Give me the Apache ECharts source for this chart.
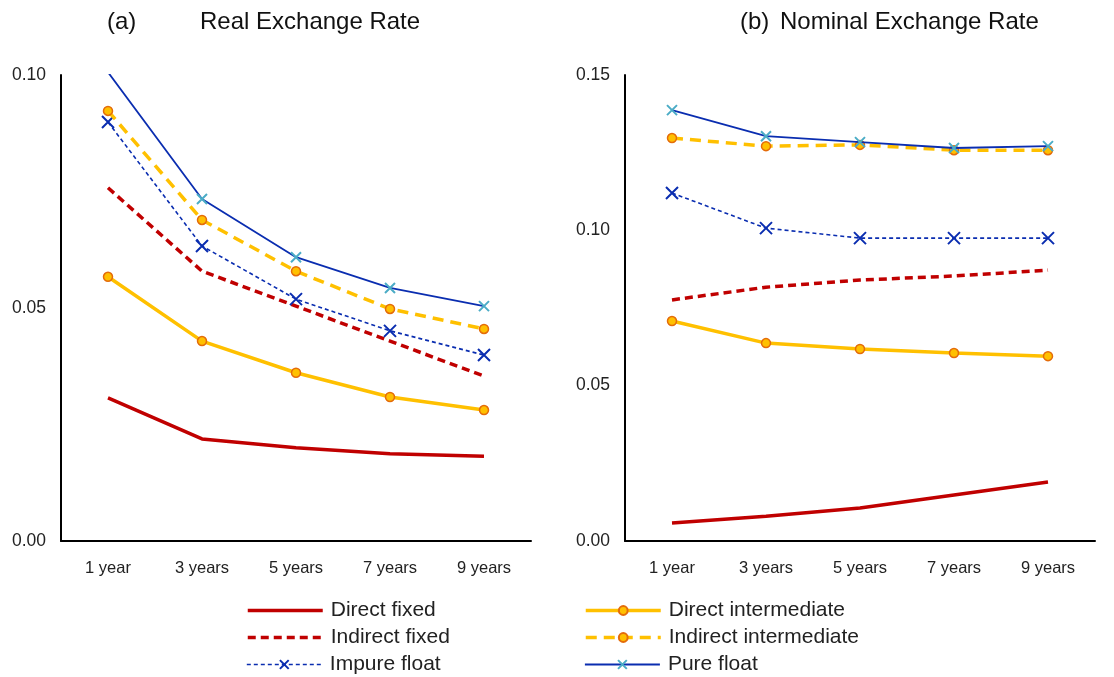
<!DOCTYPE html>
<html><head><meta charset="utf-8">
<script src="https://cdn.jsdelivr.net/npm/echarts@6/dist/echarts.min.js"></script>
<style>html,body{margin:0;padding:0;background:#fff}#c{width:1114px;height:677px}</style>
</head><body><div id="c"></div>
<script>
const categories = ['1 year','3 years','5 years','7 years','9 years'];
const seriesNames = ['Direct fixed','Indirect fixed','Impure float','Direct intermediate','Indirect intermediate','Pure float'];
// (a) Real exchange rate
const realDirectFixed = [0.0307,0.0219,0.0200,0.0187,0.0182];
const realIndirectFixed = [0.0758,0.0579,0.0504,0.0429,0.0354];
const realImpureFloat = [0.0899,0.0633,0.0519,0.0451,0.0399];
const realDirectInter = [0.0567,0.0429,0.0361,0.0309,0.0281];
const realIndirectInter = [0.0923,0.0689,0.0579,0.0498,0.0455];
const realPureFloat = [0.1006,0.0734,0.0609,0.0543,0.0504];
// (b) Nominal exchange rate
const nomDirectFixed = [0.0058,0.0080,0.0106,0.0148,0.0190];
const nomIndirectFixed = [0.0776,0.0817,0.0840,0.0853,0.0872];
const nomImpureFloat = [0.1120,0.1007,0.0975,0.0975,0.0975];
const nomDirectInter = [0.0708,0.0637,0.0618,0.0605,0.0595];
const nomIndirectInter = [0.1297,0.1271,0.1275,0.1258,0.1258];
const nomPureFloat = [0.1387,0.1303,0.1284,0.1265,0.1271];
const realTicks = {min:0, max:0.10, interval:0.05};
const nomTicks = {min:0, max:0.15, interval:0.05};

const FONT = '"Liberation Sans", Arial, sans-serif';
const X = 'path://M0,0L10,10M10,0L0,10';
const styles = {
  'Direct fixed': {lineStyle:{color:'#C00000',width:3.5,type:'solid'}, symbol:'none', itemStyle:{color:'#C00000'}},
  'Indirect fixed': {lineStyle:{color:'#C00000',width:3.5,type:[8,5]}, symbol:'none', itemStyle:{color:'#C00000'}},
  'Impure float': {lineStyle:{color:'#0A2DB0',width:1.6,type:[4,3]}, symbol:X, symbolSize:12, itemStyle:{color:'none',borderColor:'#0A2DB0',borderWidth:2}},
  'Direct intermediate': {lineStyle:{color:'#FFC000',width:3.5,type:'solid'}, symbol:'circle', symbolSize:9, itemStyle:{color:'#FFC000',borderColor:'#E46C0A',borderWidth:1.5}},
  'Indirect intermediate': {lineStyle:{color:'#FFC000',width:3.5,type:[11,7]}, symbol:'circle', symbolSize:9, itemStyle:{color:'#FFC000',borderColor:'#E46C0A',borderWidth:1.5}},
  'Pure float': {lineStyle:{color:'#0A2DB0',width:1.8,type:'solid'}, symbol:X, symbolSize:10, itemStyle:{color:'none',borderColor:'#4BACC6',borderWidth:2}}
};
const realData = [realDirectFixed,realIndirectFixed,realImpureFloat,realDirectInter,realIndirectInter,realPureFloat];
const nomData = [nomDirectFixed,nomIndirectFixed,nomImpureFloat,nomDirectInter,nomIndirectInter,nomPureFloat];
const order = [0,1,3,4,2,5];
const series = [];
[realData, nomData].forEach((set, gi) => {
  order.forEach(i => {
    const name = seriesNames[i];
    series.push(Object.assign({
      name, type:'line', xAxisIndex:gi, yAxisIndex:gi, data:set[i],
      showSymbol:true, animation:false, emphasis:{disabled:true}, z: 2 + i
    }, JSON.parse(JSON.stringify(styles[name]))));
  });
});
function xAxis(gi){return {type:'category', gridIndex:gi, data:categories, boundaryGap:true,
  axisLine:{lineStyle:{color:'#000',width:2}}, axisTick:{show:false},
  axisLabel:{margin:19, fontFamily:FONT, fontSize:16.5, color:'#222'}};}
function yAxis(gi,t){return {type:'value', gridIndex:gi, min:t.min, max:t.max, interval:t.interval,
  axisLine:{show:true,lineStyle:{color:'#000',width:2}}, axisTick:{show:false}, splitLine:{show:false},
  axisLabel:{margin:15, formatter:v=>v.toFixed(2), fontFamily:FONT, fontSize:17.5, color:'#222'}};}
const titleStyle = {fontFamily:FONT, fontSize:24, fontWeight:'normal', color:'#111'};
// legend layout: [name, left, row-center]
const legendPos = [
  ['Direct fixed',246,611],['Indirect fixed',246,638],['Impure float',246,665],
  ['Direct intermediate',584,611],['Indirect intermediate',584,638],['Pure float',584,665]
];
const legends = legendPos.map(([name,left,cy]) => {
  const st = styles[name];
  const item = {name, lineStyle:{width:st.lineStyle.width, type:st.lineStyle.type, color:st.lineStyle.color}};
  if (st.symbol === 'none') item.itemStyle = {opacity:0};
  return {
    left, top: cy - 11, padding:0, orient:'horizontal', itemWidth:75, itemHeight:11,
    selectedMode:false,
    textStyle:{fontFamily:FONT, fontSize:21, color:'#222', padding:[0,0,0,3]},
    data:[item]
  };
});
const chart = echarts.init(document.getElementById('c'), null, {renderer:'canvas'});
chart.setOption({
  backgroundColor:'#fff',
  animation:false,
  title:[
    {text:'(a)', left:107, top:10, padding:0, textStyle:titleStyle},
    {text:'Real Exchange Rate', left:200, top:10, padding:0, textStyle:titleStyle},
    {text:'(b)', left:740, top:10, padding:0, textStyle:titleStyle},
    {text:'Nominal Exchange Rate', left:780, top:10, padding:0, textStyle:titleStyle}
  ],
  grid:[
    {left:61, width:470, top:75, height:466},
    {left:625, width:470, top:75, height:466}
  ],
  xAxis:[xAxis(0), xAxis(1)],
  yAxis:[yAxis(0,realTicks), yAxis(1,nomTicks)],
  legend:legends,
  series
});
</script></body></html>
